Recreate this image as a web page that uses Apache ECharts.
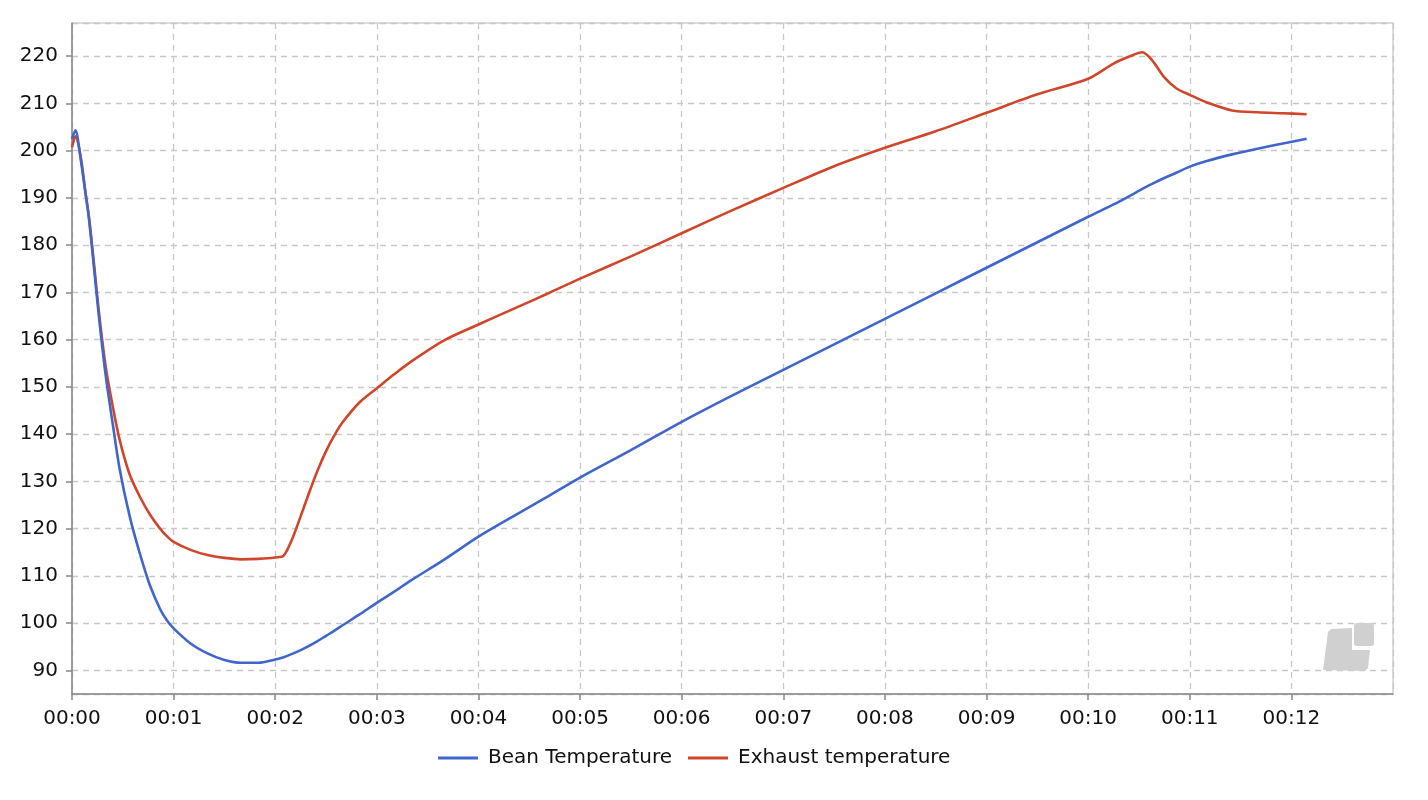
<!DOCTYPE html>
<html>
<head>
<meta charset="utf-8">
<script src="https://cdn.jsdelivr.net/npm/echarts@6/dist/echarts.min.js"></script>
<style>
html,body{margin:0;padding:0;background:#fff;}
#chart{width:1428px;height:800px;}
</style>
</head>
<body>
<div id="chart"></div>
<script>
// time in seconds since start
var seconds = [0, 2, 5, 8, 10, 13, 16, 20, 24, 28, 34, 40, 46, 52, 56, 60, 70, 80, 90, 100, 110, 120, 125, 130, 135, 140, 145, 150, 155, 160, 170, 180, 190, 200, 220, 240, 260, 280, 300, 330, 360, 390, 420, 450, 480, 510, 540, 570, 600, 615, 625, 632, 638, 645, 652, 660, 670, 685, 700, 715, 729];

var beanTemperature = [202.4, 204.3, 198.5, 190.9, 185.6, 175.2, 164.5, 152.1, 142.3, 132.9, 122.7, 114.8, 108.0, 103.0, 100.6, 98.9, 95.7, 93.6, 92.2, 91.6, 91.6, 92.3, 92.8, 93.5, 94.3, 95.2, 96.2, 97.3, 98.4, 99.6, 101.9, 104.3, 106.6, 109.0, 113.5, 118.3, 122.5, 126.6, 130.8, 136.6, 142.6, 148.2, 153.6, 159.0, 164.4, 169.8, 175.2, 180.6, 186.0, 188.6, 190.5, 191.9, 193.0, 194.2, 195.3, 196.6, 197.8, 199.2, 200.4, 201.5, 202.5];

var exhaustTemperature = [200.7, 203.0, 199.0, 191.0, 186.0, 176.0, 165.5, 154.0, 146.0, 139.0, 131.5, 126.8, 123.0, 120.0, 118.4, 117.2, 115.5, 114.4, 113.8, 113.5, 113.6, 113.9, 114.3, 117.8, 122.6, 127.6, 132.3, 136.4, 139.8, 142.6, 146.8, 149.7, 152.6, 155.3, 159.9, 163.2, 166.4, 169.6, 172.9, 177.6, 182.5, 187.4, 192.1, 196.7, 200.6, 204.1, 208.0, 211.9, 215.2, 218.4, 220.0, 220.8, 219.0, 215.5, 213.2, 211.8, 210.2, 208.5, 208.1, 207.9, 207.7];

var seriesNames = ['Bean Temperature', 'Exhaust temperature'];
var seriesColors = ['#4066cc', '#d0462a'];

function pairs(xs, ys) {
  return xs.map(function (x, i) { return [x, ys[i]]; });
}
function pad(n) { return (n < 10 ? '0' : '') + n; }

var chart = echarts.init(document.getElementById('chart'), null, {renderer: 'canvas'});
var font = 'DejaVu Sans';

chart.setOption({
  animation: false,
  backgroundColor: '#ffffff',
  textStyle: {fontFamily: font},
  grid: {
    left: 72, right: 35, top: 23, bottom: 106,
    show: true, borderColor: '#b8b8b8', borderWidth: 1, backgroundColor: 'transparent'
  },
  legend: {
    data: seriesNames,
    top: 748,
    left: 438,
    padding: 0,
    icon: 'rect',
    itemWidth: 40,
    itemHeight: 3,
    itemGap: 16,
    textStyle: {fontFamily: font, fontSize: 20, color: '#111', padding: [0, 0, 0, 5]}
  },
  xAxis: {
    type: 'value',
    min: 0,
    max: 780,
    interval: 60,
    axisLine: {show: true, onZero: false, lineStyle: {color: '#888', width: 1.5}},
    axisTick: {show: true, length: 6, lineStyle: {color: '#888', width: 1.5}},
    axisLabel: {
      fontFamily: font, fontSize: 20, color: '#111', margin: 15,
      showMaxLabel: false,
      formatter: function (v) {
        return pad(Math.floor(v / 3600)) + ':' + pad(Math.floor(v / 60) % 60);
      }
    },
    splitLine: {show: true, lineStyle: {color: '#c8c8c8', type: [6, 5], width: 1.3}}
  },
  yAxis: {
    type: 'value',
    min: 85,
    max: 227,
    splitNumber: 14,
    axisLine: {show: true, lineStyle: {color: '#888', width: 1.5}},
    axisTick: {show: true, length: 6, lineStyle: {color: '#888', width: 1.5}},
    axisLabel: {fontFamily: font, fontSize: 20, color: '#111', margin: 14, showMinLabel: false, showMaxLabel: false},
    splitLine: {show: true, lineStyle: {color: '#c8c8c8', type: [6, 5], width: 1.3}}
  },
  graphic: [
    {
      type: 'polygon', silent: true, z: 1,
      shape: {points: [[1323, 670], [1328, 632], [1331, 629], [1352, 628], [1352, 650], [1370, 650], [1368, 668], [1365, 671]]},
      style: {fill: '#d0d0d0'}
    },
    {
      type: 'rect', silent: true, z: 1,
      shape: {x: 1354, y: 623, width: 20, height: 23, r: 3},
      style: {fill: '#d0d0d0'}
    }
  ],
  series: [
    {
      name: seriesNames[0], type: 'line', showSymbol: false, symbol: 'none',
      smooth: 0.3,
      data: pairs(seconds, beanTemperature),
      lineStyle: {color: seriesColors[0], width: 2.6},
      itemStyle: {color: seriesColors[0]},
      z: 3
    },
    {
      name: seriesNames[1], type: 'line', showSymbol: false, symbol: 'none',
      smooth: 0.3,
      data: pairs(seconds, exhaustTemperature),
      lineStyle: {color: seriesColors[1], width: 2.6},
      itemStyle: {color: seriesColors[1]},
      z: 2
    }
  ]
});
</script>
</body>
</html>
